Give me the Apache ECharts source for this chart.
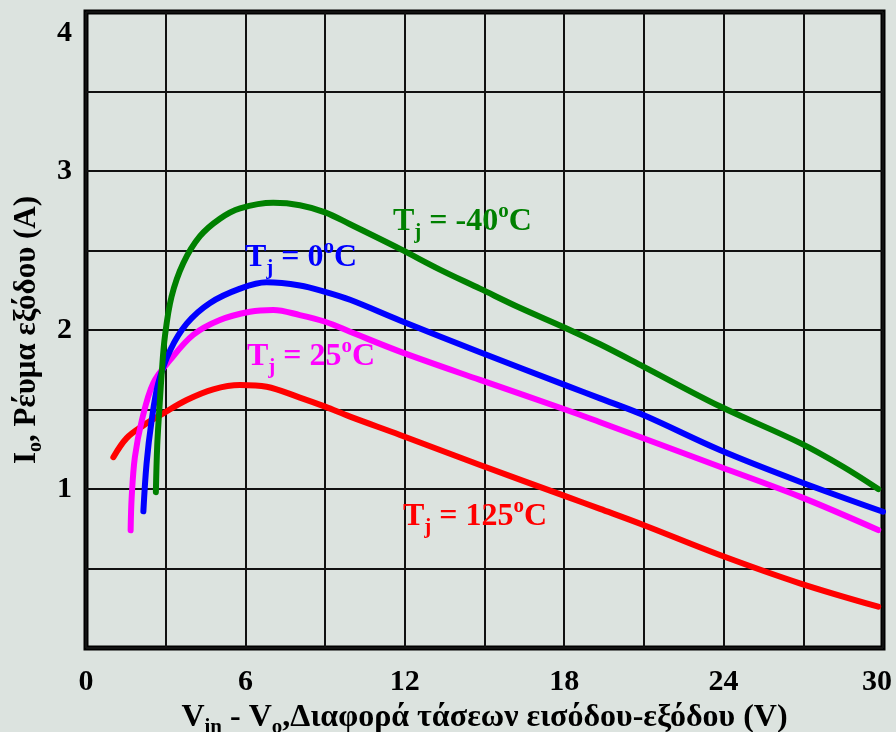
<!DOCTYPE html>
<html>
<head>
<meta charset="utf-8">
<script src="https://cdn.jsdelivr.net/npm/echarts@6/dist/echarts.min.js"></script>
<style>
html,body{margin:0;padding:0;background:#dce3df;}
#c{width:896px;height:732px;}
</style>
</head>
<body>
<div id="c"></div>
<script>
// X: Vin - Vo (V), Y: Io (A)
const xTicks = [0, 6, 12, 18, 24, 30];
const yTicks = [1, 2, 3, 4];

const tjMinus40 = [[2.63,0.98],[2.68,1.27],[2.76,1.50],[2.85,1.73],[2.97,1.96],[3.22,2.21],[3.66,2.42],[4.29,2.59],[5.04,2.70],[5.8,2.765],[7.05,2.80],[8.05,2.785],[9.0,2.74],[9.94,2.665],[11.82,2.51],[13.32,2.38],[14.83,2.26],[16.33,2.14],[18.09,2.01],[19.35,1.91],[20.98,1.77],[23.86,1.52],[26.87,1.29],[28.5,1.14],[29.82,1.0]];
const tj0 = [[2.16,0.86],[2.28,1.16],[2.47,1.43],[2.72,1.665],[3.16,1.87],[3.79,2.04],[4.67,2.17],[5.8,2.26],[6.8,2.30],[8.05,2.28],[9.0,2.24],[9.94,2.19],[11.82,2.06],[14.83,1.86],[18.09,1.65],[19.35,1.57],[20.98,1.465],[23.86,1.245],[26.87,1.046],[30.0,0.857]];
const tj25 = [[1.68,0.74],[1.72,0.95],[1.84,1.20],[2.1,1.43],[2.53,1.665],[3.16,1.81],[4.04,1.97],[5.04,2.063],[6.17,2.115],[7.05,2.126],[8.05,2.094],[9.0,2.052],[9.94,1.989],[11.82,1.864],[14.83,1.686],[18.09,1.497],[19.35,1.42],[20.98,1.319],[23.86,1.14],[26.87,0.952],[29.82,0.742]];
const tj125 = [[1.03,1.20],[1.53,1.32],[2.16,1.40],[2.91,1.476],[3.79,1.56],[4.79,1.627],[5.8,1.654],[6.8,1.643],[8.05,1.575],[9.0,1.518],[9.94,1.455],[11.82,1.34],[14.83,1.151],[18.09,0.952],[19.35,0.875],[20.98,0.774],[23.86,0.585],[26.87,0.407],[29.82,0.26]];

const seriesNames = ['-40', '0', '25', '125'];
const seriesData = [tjMinus40, tj0, tj25, tj125];
const seriesColors = ['#008000', '#0000ff', '#ff00ff', '#ff0000'];
const labelPos = [[393, 201], [245, 237], [247, 336], [403, 496]];

const FONT = '"Liberation Serif","Times New Roman",serif';

function tjRich(color) {
  return {
    t: {fontFamily: FONT, fontWeight: 'bold', fontSize: 32, lineHeight: 42, fill: color, verticalAlign: 'middle'},
    sub: {fontFamily: FONT, fontWeight: 'bold', fontSize: 21, lineHeight: 20, fill: color, verticalAlign: 'bottom'},
    sup: {fontFamily: FONT, fontWeight: 'bold', fontSize: 21, lineHeight: 21, fill: color, verticalAlign: 'top'}
  };
}

const chart = echarts.init(document.getElementById('c'), null, {renderer: 'canvas'});

const option = {
  backgroundColor: '#dce3df',
  animation: false,
  grid: {left: 86, right: 13, top: 12, bottom: 84, containLabel: false, outerBoundsMode: 'none',
         show: true, borderColor: '#000', borderWidth: 5, backgroundColor: 'transparent'},
  xAxis: {
    type: 'value', min: 0, max: 30, interval: 3,
    axisLine: {show: false},
    axisTick: {show: false},
    splitLine: {show: true, lineStyle: {color: '#111', width: 2}},
    axisLabel: {
      margin: 19, color: '#000', fontFamily: FONT, fontWeight: 'bold', fontSize: 30,
      formatter: v => v === 30 ? '{end|30}' : (xTicks.indexOf(v) >= 0 ? String(v) : ''),
      rich: {end: {fontFamily: FONT, fontWeight: 'bold', fontSize: 30, color: '#000', padding: [0, 12, 0, 0]}}
    },
    name: '{b|V}{s|in}{b| - V}{s|o}{b|,Διαφορά τάσεων εισόδου-εξόδου (V)}',
    nameLocation: 'middle', nameGap: 45,
    nameTextStyle: {
      rich: {
        b: {fontFamily: FONT, fontWeight: 'bold', fontSize: 32, lineHeight: 40, color: '#000', verticalAlign: 'middle'},
        s: {fontFamily: FONT, fontWeight: 'bold', fontSize: 21, lineHeight: 20, color: '#000', verticalAlign: 'bottom'}
      }
    }
  },
  yAxis: {
    type: 'value', min: 0, max: 4, interval: 0.5,
    axisLine: {show: false},
    axisTick: {show: false},
    splitLine: {show: true, lineStyle: {color: '#111', width: 2}},
    axisLabel: {
      margin: 14, color: '#000', fontFamily: FONT, fontWeight: 'bold', fontSize: 30,
      formatter: v => v === 4 ? '{top|4}' : (yTicks.indexOf(v) >= 0 ? String(v) : ''),
      rich: {top: {fontFamily: FONT, fontWeight: 'bold', fontSize: 30, color: '#000', padding: [42, 0, 0, 0]}}
    },
    name: '{b|I}{s|o}{b|, Ρέυμα εξόδου (A)}',
    nameLocation: 'middle', nameGap: 38, nameRotate: 90,
    nameTextStyle: {
      rich: {
        b: {fontFamily: FONT, fontWeight: 'bold', fontSize: 31, lineHeight: 38, color: '#000', verticalAlign: 'middle'},
        s: {fontFamily: FONT, fontWeight: 'bold', fontSize: 20, lineHeight: 19, color: '#000', verticalAlign: 'bottom'}
      }
    }
  },
  series: seriesData.map((d, i) => ({
    type: 'line',
    name: 'Tj = ' + seriesNames[i] + '°C',
    data: d,
    smooth: 0.35,
    showSymbol: false,
    lineStyle: {color: seriesColors[i], width: 6, cap: 'round', join: 'round'},
    z: 5 - i
  })),
  graphic: seriesNames.map((n, i) => ({
    type: 'text',
    left: labelPos[i][0], top: labelPos[i][1],
    z: 100,
    style: {
      text: '{t|T}{sub|j}{t| = ' + n + '}{sup|o}{t|C}',
      fill: seriesColors[i],
      rich: tjRich(seriesColors[i])
    }
  }))
};
chart.setOption(option);
</script>
</body>
</html>
